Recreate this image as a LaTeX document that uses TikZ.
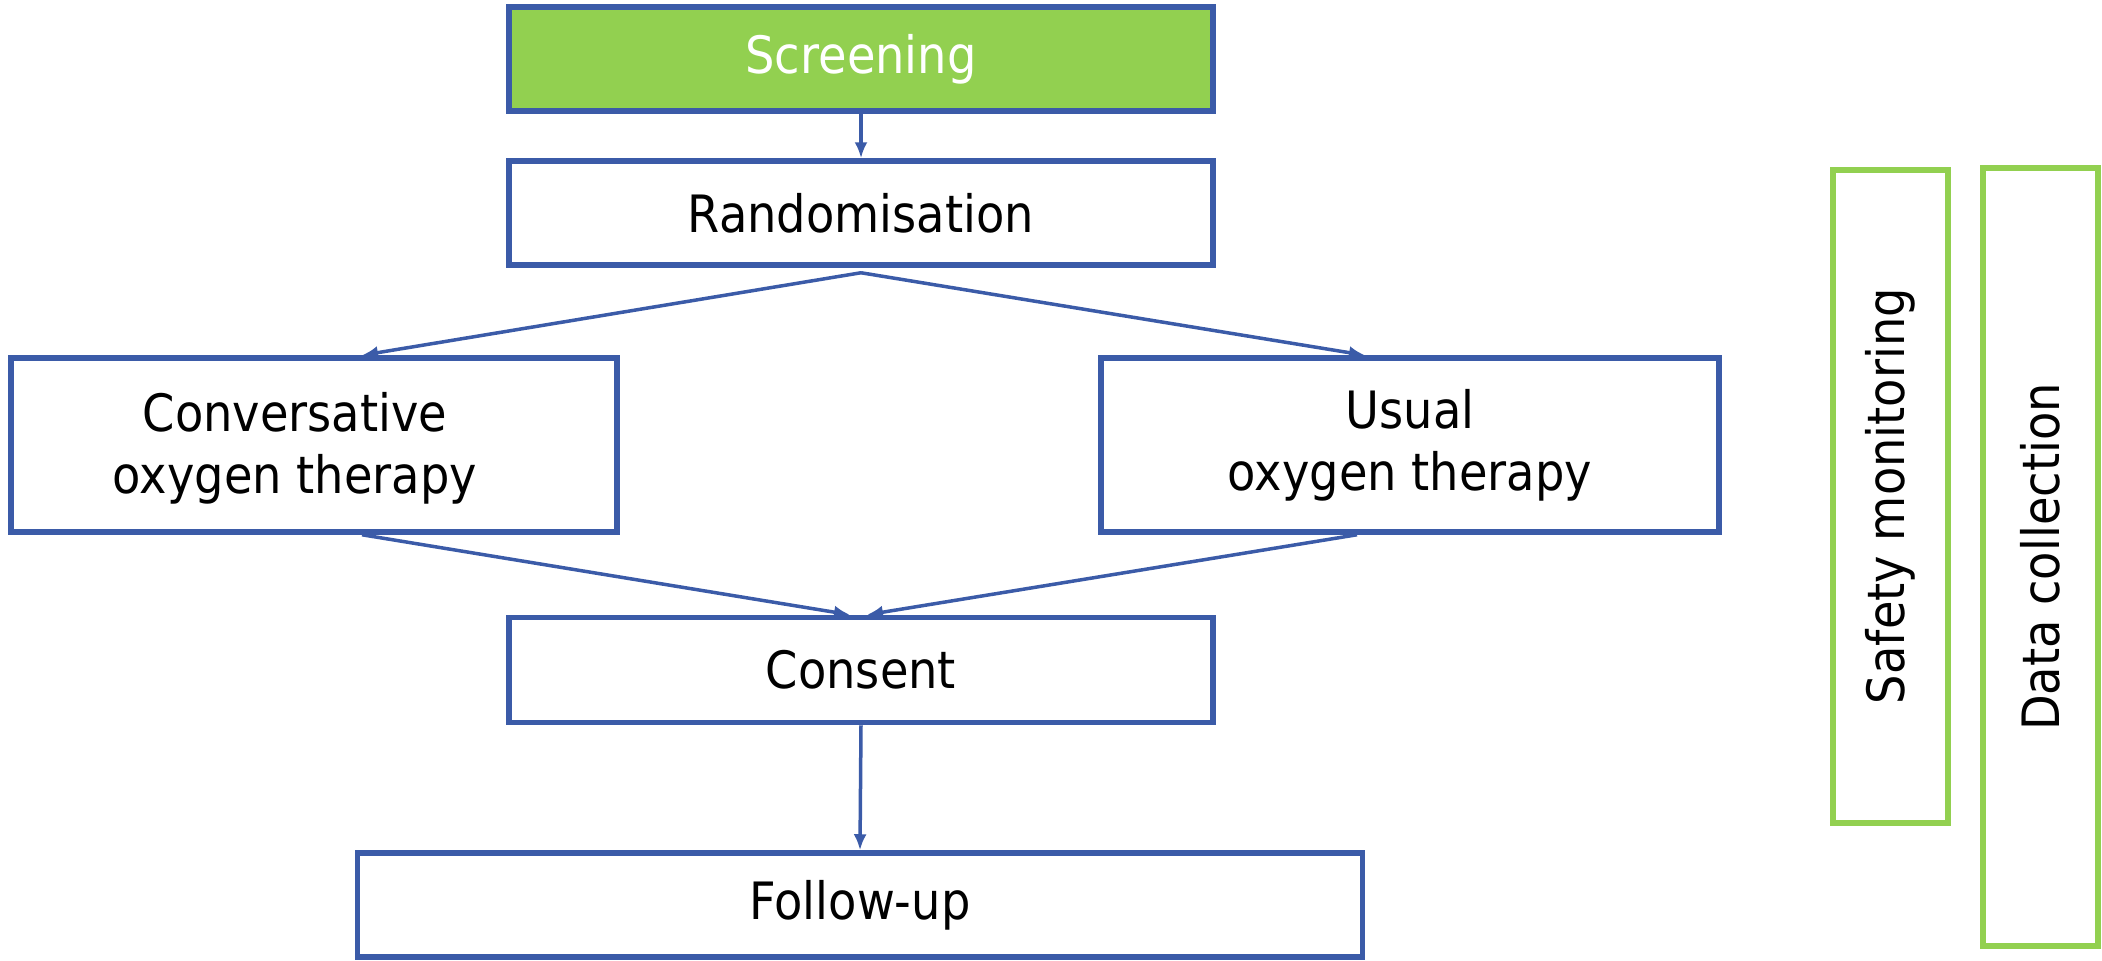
\documentclass[tikz,border=0pt]{standalone}
\usepackage{fontspec}
\setmainfont{DejaVu Sans}[FakeStretch=0.9]
\usetikzlibrary{arrows.meta,calc}
\definecolor{boxblue}{HTML}{3B5BA8}
\definecolor{boxgreen}{HTML}{92D050}
\begin{document}
\begin{tikzpicture}[x=1pt,y=-1pt,
  every node/.style={font=\fontsize{51.5}{62}\selectfont},
  bluebox/.style={draw=boxblue,line width=5.5pt,fill=white,inner sep=0pt,align=center},
  greenbox/.style={draw=boxgreen,line width=6pt,inner sep=0pt},
  conn/.style={draw=boxblue,line width=3.5pt,-{Latex[length=16pt,width=13pt]}}
  ]
\useasboundingbox (0,0) rectangle (2102,961);
\node[bluebox,fill=boxgreen,text=white,minimum width=704pt,minimum height=104pt] (scr) at (861,59) {Screening};
\node[bluebox,minimum width=704pt,minimum height=104pt] (rand) at (861,213) {Randomisation};
\node[bluebox,minimum width=606pt,minimum height=174pt] (conv) at (314,445) {};
\node[align=center,inner sep=0pt] (convtext) at ($(conv.center)+(-19,3)$) {Conversative\\oxygen therapy};
\node[bluebox,minimum width=618pt,minimum height=174pt] (usual) at (1410,445) {Usual\\oxygen therapy};
\node[bluebox,minimum width=704pt,minimum height=105pt] (cons) at (861,670) {Consent};
\node[bluebox,minimum width=1005pt,minimum height=104pt] (fup) at (860,905) {Follow-up};
\node[greenbox,minimum width=115pt,minimum height=653pt] (safe) at (1890,496) {};
\node[rotate=90,inner sep=0pt] (safetext) at (safe.center) {Safety monitoring};
\node[greenbox,minimum width=115pt,minimum height=778pt] (data) at (2040,557) {};
\node[rotate=90,inner sep=0pt] (datatext) at (data.center) {Data collection};
% connectors
\coordinate (fork) at ($(rand.south)+(0,5)$);
\coordinate (convin) at ($(conv.north)+(48,0)$);
\coordinate (usualin) at ($(usual.north)+(-45,0)$);
\coordinate (convout) at ($(conv.south)+(48,0)$);
\coordinate (usualout) at ($(usual.south)+(-53,0)$);
\coordinate (consinl) at ($(cons.north)+(-11,0)$);
\coordinate (consinr) at ($(cons.north)+(6,0)$);
\draw[conn] (scr.south) -- (rand.north);
\draw[conn] (fork) -- (convin);
\draw[conn] (fork) -- (usualin);
\draw[conn] (convout) -- (consinl);
\draw[conn] (usualout) -- (consinr);
\draw[conn] (cons.south) -- (fup.north);
\end{tikzpicture}
\end{document}
